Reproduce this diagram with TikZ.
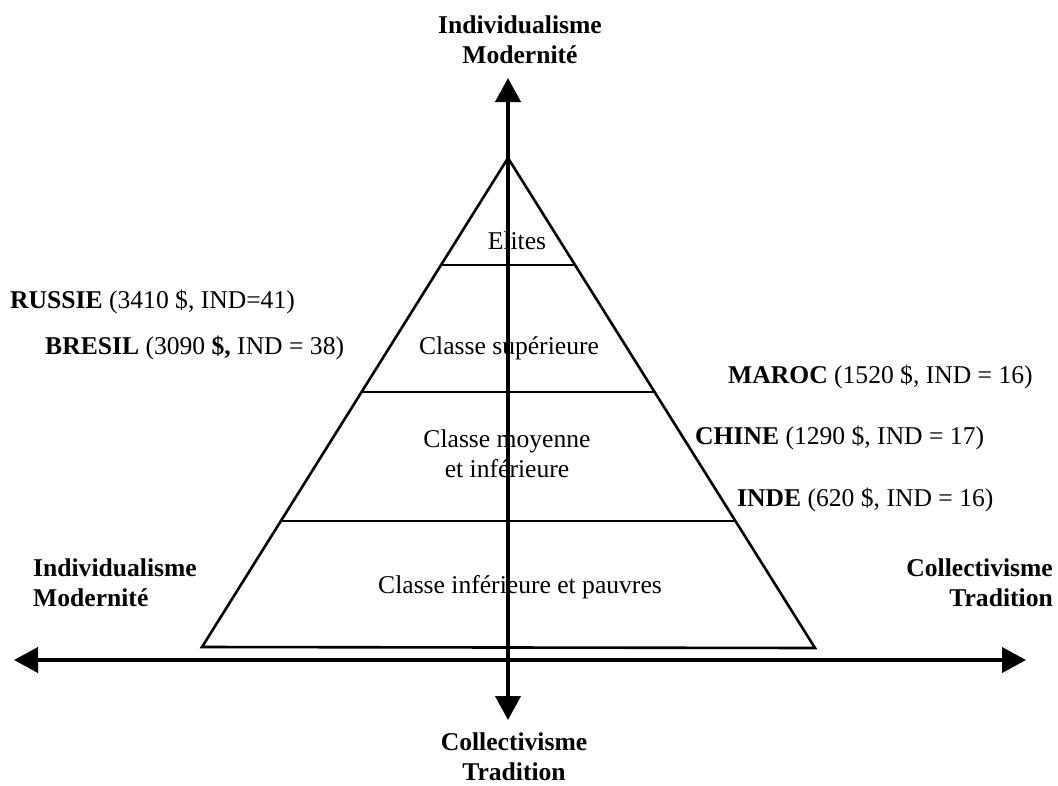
\documentclass[tikz,border=0pt]{standalone}
\usepackage{fontspec}
\setmainfont{Liberation Serif}
\usetikzlibrary{arrows.meta}
\tikzset{
  lbl/.style={inner sep=0pt, font=\fontsize{25.6}{30}\selectfont},
  blbl/.style={lbl, font=\fontsize{25.6}{30}\selectfont\bfseries},
  pyr/.style={line width=2.6pt, line join=miter},
  axis/.style={line width=4pt, -{Triangle[length=24pt,width=25pt]}},
}
\begin{document}
\begin{tikzpicture}[x=1pt,y=-1pt]
\useasboundingbox (0,0) rectangle (1058,785);
% pyramid corners
\coordinate (apex) at (508,158);
\coordinate (bl) at (202,647);
\coordinate (br) at (815,648);
\coordinate (e1) at (441,265);
\coordinate (e2) at (576,265);
\coordinate (s1) at (362,392);
\coordinate (s2) at (655,392);
\coordinate (m1) at (282,521);
\coordinate (m2) at (735,521);
% labels inside pyramid
\node[lbl] (elites) at (517,241) {Elites};
\node[lbl] (sup) at (509,348) {Classe supérieure};
\node[lbl, align=center] (moy) at (507,454) {Classe moyenne\\et inférieure};
\node[lbl] (inf) at (520,587) {Classe inférieure et pauvres};
% pyramid
\draw[pyr] (bl) -- (apex) -- (br) -- cycle;
\draw[pyr] (e1) -- (e2);
\draw[pyr] (s1) -- (s2);
\draw[pyr] (m1) -- (m2);
% axes
\coordinate (vt) at (508,78);
\coordinate (vb) at (508,720);
\coordinate (hl) at (14,660);
\coordinate (hr) at (1026,660);
\coordinate (hc) at (508,660);
\draw[axis] (hc) -- (hl);
\draw[axis] (hc) -- (hr);
\draw[axis] (hc) -- (vt);
\draw[axis] (hc) -- (vb);
% axis labels
\node[blbl, align=center] (top) at (520,40) {Individualisme\\Modernité};
\node[blbl, align=center] (bot) at (514,757) {Collectivisme\\Tradition};
\node[blbl, align=left, anchor=west] (left) at (33,583) {Individualisme\\Modernité};
\node[blbl, align=right, anchor=east] (right) at (1053,583) {Collectivisme\\Tradition};
% countries
\node[lbl, anchor=west] (russie) at (10,302) {\textbf{RUSSIE} (3410 \$, IND=41)};
\node[lbl, anchor=west] (bresil) at (45,348) {\textbf{BRESIL} (3090 \textbf{\$,} IND = 38)};
\node[lbl, anchor=west] (maroc) at (728,377) {\textbf{MAROC} (1520 \$, IND = 16)};
\node[lbl, anchor=west] (chine) at (695,438) {\textbf{CHINE} (1290 \$, IND = 17)};
\node[lbl, anchor=west] (inde) at (737,500) {\textbf{INDE} (620 \$, IND = 16)};
\end{tikzpicture}
\end{document}
